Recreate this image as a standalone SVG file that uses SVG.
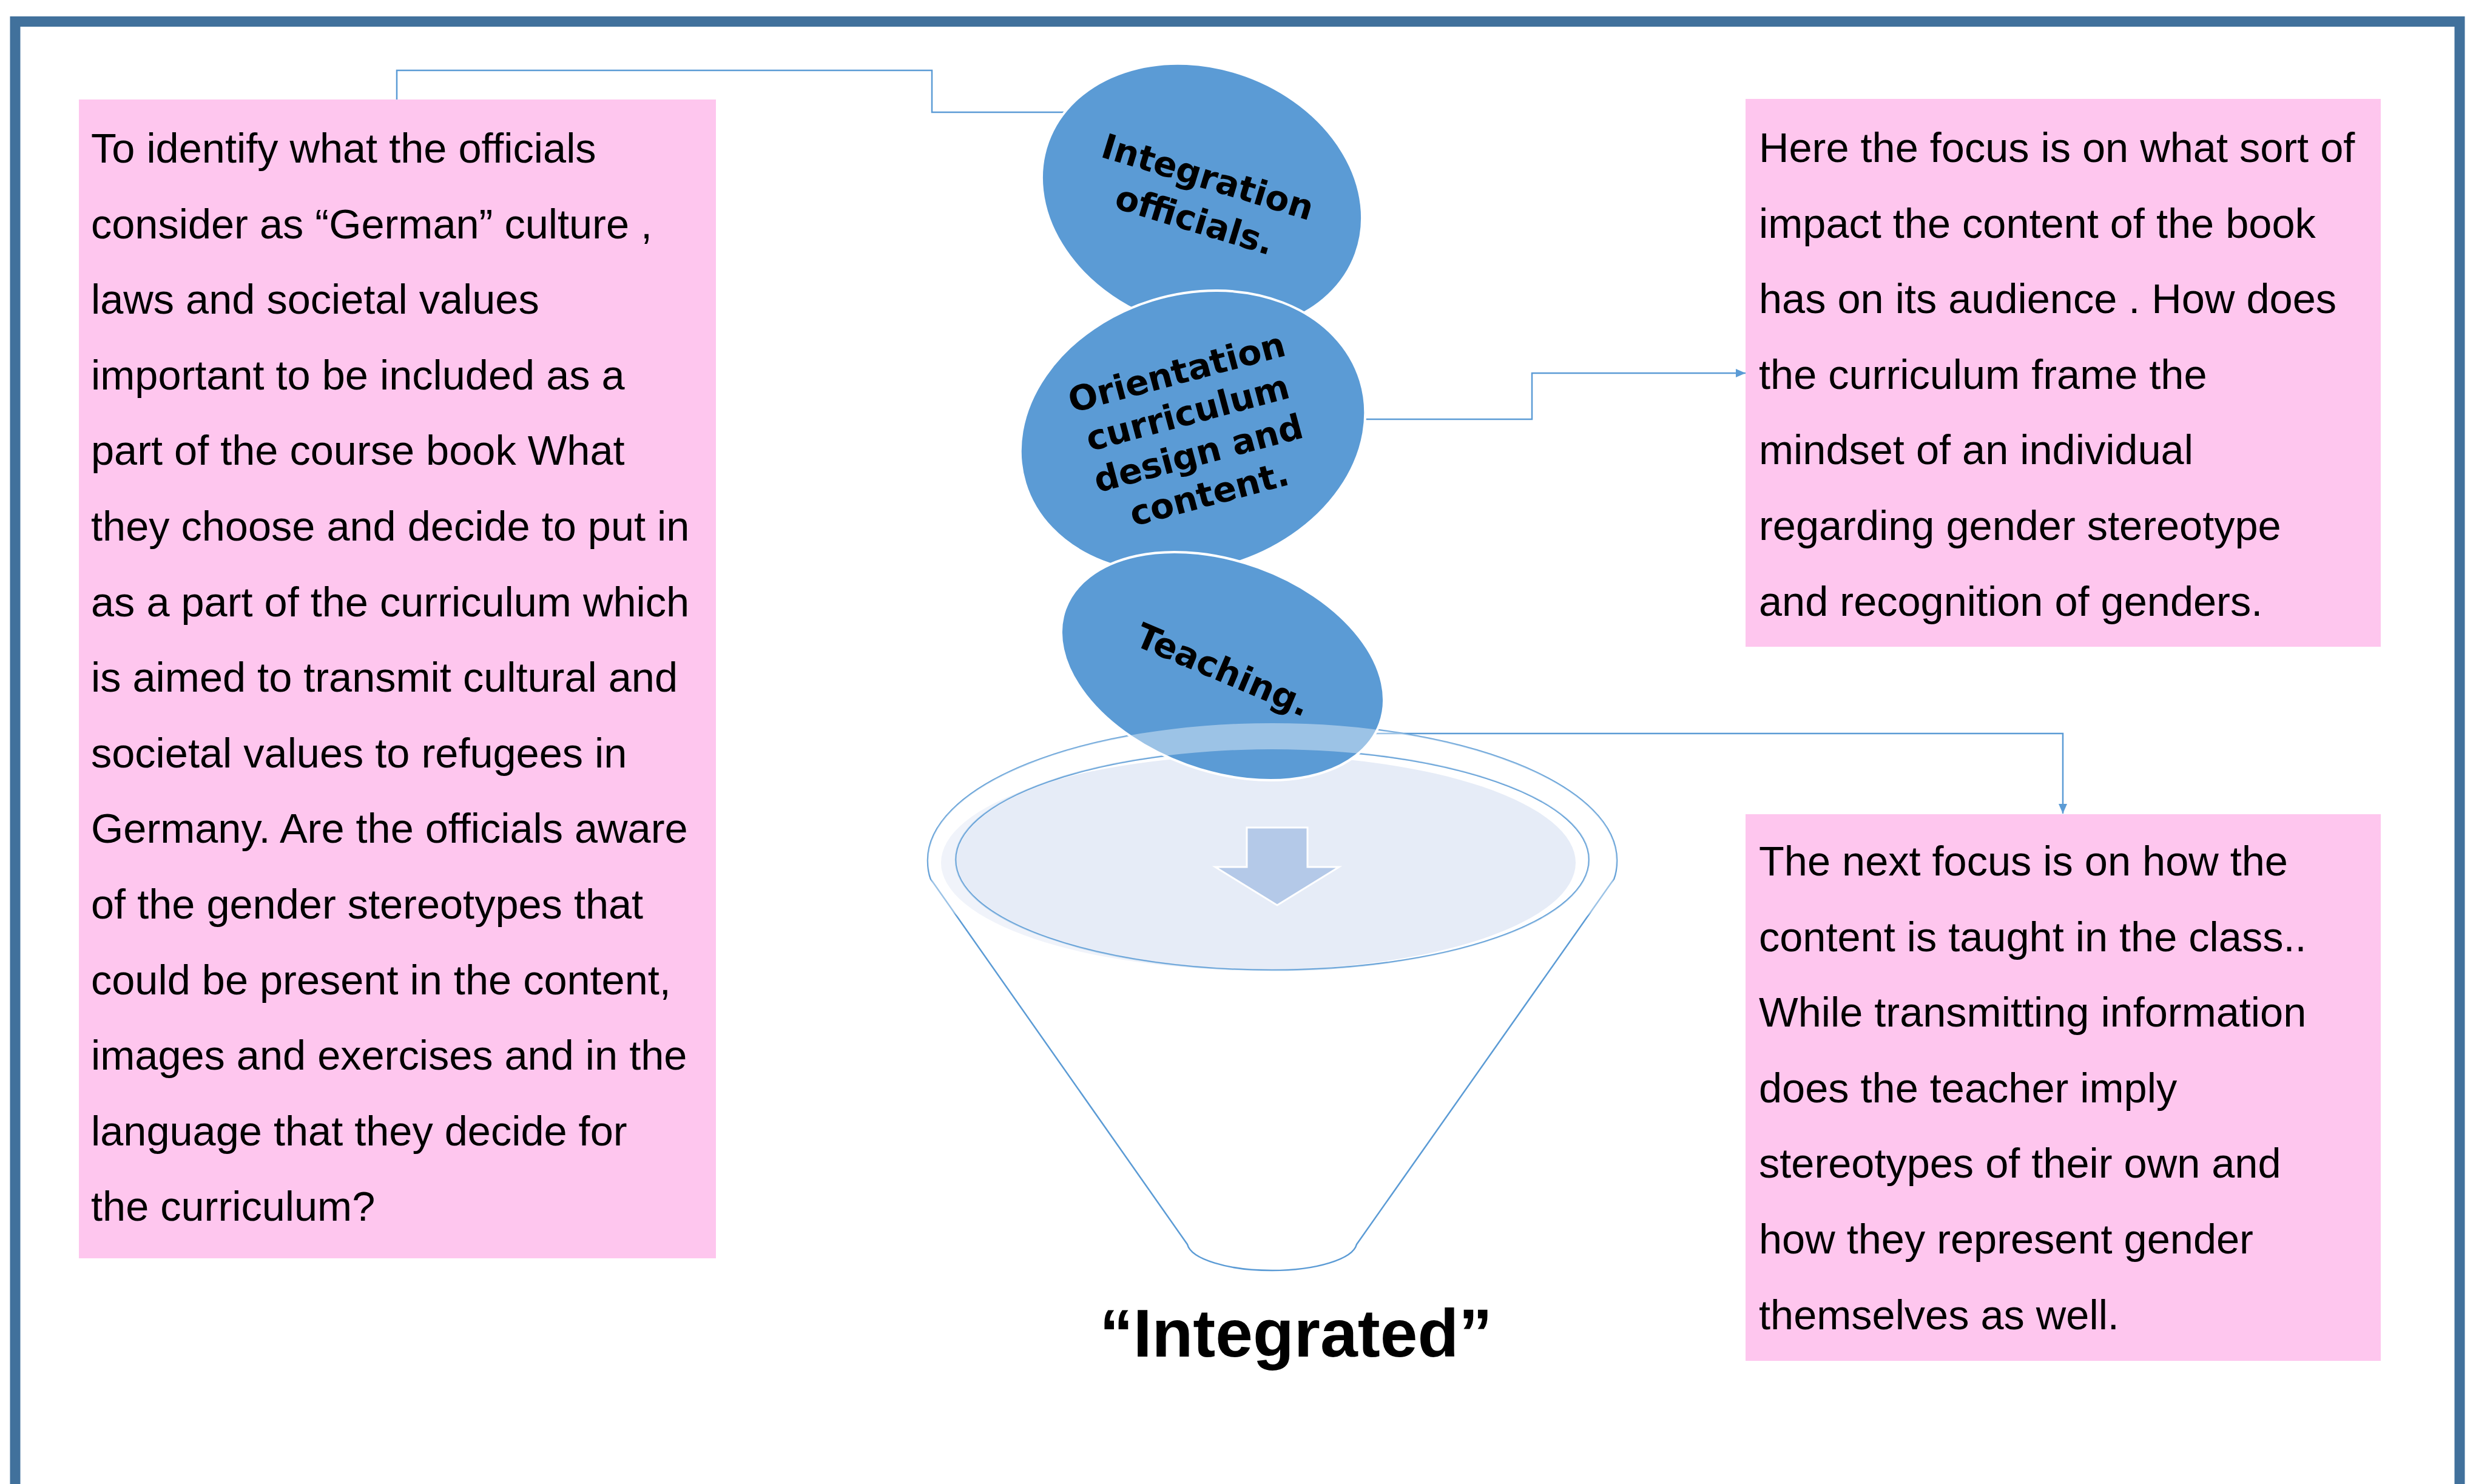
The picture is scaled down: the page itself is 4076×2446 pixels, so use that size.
<svg xmlns="http://www.w3.org/2000/svg" width="4076" height="2446" viewBox="0 0 4076 2446">
<defs>
<style>
.box{fill:#fec6ee}
.txt{font-family:"Liberation Sans",Arial,sans-serif;font-size:68.5px;fill:#000}
.conn{fill:none;stroke:#5b9bd5;stroke-width:2.5}
.bub{fill:#5b9bd5;stroke:#ffffff;stroke-width:4}
.btxt{font-family:"DejaVu Sans",Verdana,sans-serif;font-weight:bold;font-size:57px;fill:#000;text-anchor:middle}
.fl{fill:none;stroke:#5b9bd5;stroke-width:2.5}
</style>
<marker id="ah" markerUnits="userSpaceOnUse" markerWidth="18" markerHeight="16" refX="16" refY="8" orient="auto">
<path d="M0,1 L16,8 L0,15 Z" fill="#5b9bd5"/>
</marker>
</defs>
<rect x="0" y="0" width="4076" height="2446" fill="#ffffff"/>
<rect x="25" y="35.5" width="4029" height="2500" fill="none" stroke="#41719c" stroke-width="17"/>

<g id="connectors">
<path class="conn" d="M654,164 V116 H1536 V185 H1770"/>
<path class="conn" d="M2220,691 H2525 V615 H2877" marker-end="url(#ah)"/>
<path class="conn" d="M2220,1209 H3400 V1341" marker-end="url(#ah)"/>
</g>

<g id="box-left">
<rect class="box" x="130" y="164" width="1050" height="1910"/>
<text class="txt" x="150">
<tspan x="150" y="268">To identify what the officials</tspan>
<tspan x="150" y="392.6">consider as “German” culture ,</tspan>
<tspan x="150" y="517.2">laws and societal values</tspan>
<tspan x="150" y="641.8">important to be included as a</tspan>
<tspan x="150" y="766.4">part of the course book What</tspan>
<tspan x="150" y="891">they choose and decide to put in</tspan>
<tspan x="150" y="1015.6">as a part of the curriculum which</tspan>
<tspan x="150" y="1140.2">is aimed to transmit cultural and</tspan>
<tspan x="150" y="1264.8">societal values to refugees in</tspan>
<tspan x="150" y="1389.4">Germany. Are the officials aware</tspan>
<tspan x="150" y="1514">of the gender stereotypes that</tspan>
<tspan x="150" y="1638.6">could be present in the content,</tspan>
<tspan x="150" y="1763.2">images and exercises and in the</tspan>
<tspan x="150" y="1887.8">language that they decide for</tspan>
<tspan x="150" y="2012.4">the curriculum?</tspan>
</text>
</g>

<g id="box-right-top">
<rect class="box" x="2877" y="163" width="1047" height="903"/>
<text class="txt">
<tspan x="2899" y="267">Here the focus is on what sort of</tspan>
<tspan x="2899" y="391.6">impact the content of the book</tspan>
<tspan x="2899" y="516.2">has on its audience . How does</tspan>
<tspan x="2899" y="640.8">the curriculum frame the</tspan>
<tspan x="2899" y="765.4">mindset of an individual</tspan>
<tspan x="2899" y="890">regarding gender stereotype</tspan>
<tspan x="2899" y="1014.6">and recognition of genders.</tspan>
</text>
</g>

<g id="box-right-bottom">
<rect class="box" x="2877" y="1342" width="1047" height="901"/>
<text class="txt">
<tspan x="2899" y="1443">The next focus is on how the</tspan>
<tspan x="2899" y="1567.6">content is taught in the class..</tspan>
<tspan x="2899" y="1692.2">While transmitting information</tspan>
<tspan x="2899" y="1816.8">does the teacher imply</tspan>
<tspan x="2899" y="1941.4">stereotypes of their own and</tspan>
<tspan x="2899" y="2066">how they represent gender</tspan>
<tspan x="2899" y="2190.6">themselves as well.</tspan>
</text>
</g>

<g id="funnel">
<ellipse cx="2074" cy="1422" rx="523" ry="177" fill="#e6ecf7"/>
<path class="fl" d="M1957,2051 L1534,1449 Q1529,1436 1529,1418 A568,226 0 0 1 2665,1418 Q2665,1436 2660,1449 L2236,2051 A140,47 0 0 1 1957,2051 Z"/>
<ellipse class="fl" cx="2097" cy="1417" rx="522" ry="182"/>
<path d="M2081,1364 H2155 V1429 H2207 L2105,1492 L2003,1429 H2055 V1364 Z" fill="#b4c9e8" stroke="#ffffff" stroke-width="3"/>
</g>

<g id="node-integration">
<ellipse class="bub" cx="1981" cy="326" rx="270" ry="214" transform="rotate(20 1981 326)"/>
<g transform="rotate(17 1980 327)">
<text class="btxt" x="1980" y="310">Integration</text>
<text class="btxt" x="1980" y="384">officials.</text>
</g>
</g>

<g id="node-orientation">
<ellipse class="bub" cx="1966" cy="712" rx="289" ry="227" transform="rotate(-17 1966 712)"/>
<g transform="rotate(-15 1966 713)">
<text class="btxt" x="1966" y="630">Orientation</text>
<text class="btxt" x="1966" y="699">curriculum</text>
<text class="btxt" x="1966" y="768">design and</text>
<text class="btxt" x="1966" y="837">content.</text>
</g>
</g>

<g id="node-teaching">
<ellipse class="bub" cx="2015" cy="1098" rx="276" ry="173" transform="rotate(20 2015 1098)"/>
<text class="btxt" x="2016" y="1124" transform="rotate(23 2016 1104)">Teaching.</text>
</g>

<g id="funnel-rim">
<path d="M1529,1418 A568,226 0 1 1 2665,1418 A568,226 0 1 1 1529,1418 Z M1575,1417 A522,182 0 1 0 2619,1417 A522,182 0 1 0 1575,1417 Z" fill="#ffffff" fill-opacity="0.4" fill-rule="evenodd"/>
</g>

<g id="label-integrated">
<text x="2136" y="2236" font-family="'Liberation Sans',Arial,sans-serif" font-weight="bold" font-size="111" text-anchor="middle">“Integrated”</text>
</g>
</svg>
